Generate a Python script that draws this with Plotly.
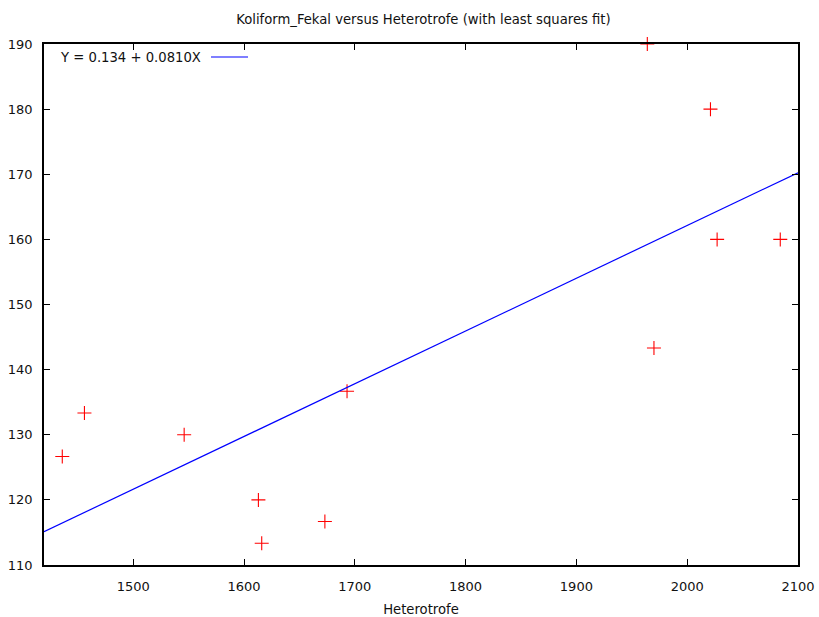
import plotly.graph_objects as go

heterotrofe = [1436, 1456, 1546, 1613, 1616, 1673, 1693, 1964, 1970, 2021, 2027, 2084]
koliform = [126.67, 133.33, 130.0, 120.0, 113.33, 116.67, 136.67, 190.0, 143.33, 180.0, 160.0, 160.0]
intercept = 0.134
slope = 0.0810
x_range = [1419.5, 2100]
y_range = [110, 190]
x_ticks = [1500, 1600, 1700, 1800, 1900, 2000, 2100]
y_ticks = [110, 120, 130, 140, 150, 160, 170, 180, 190]

font = "DejaVu Sans, Verdana, sans-serif"

fig = go.Figure()
fig.add_trace(go.Scatter(
    x=heterotrofe, y=koliform, mode="markers",
    marker=dict(symbol="cross-thin", size=10, line=dict(color="#ff0000", width=1.1)),
    showlegend=False, cliponaxis=False,
))
fit_x = x_range
fit_y = [intercept + slope * v for v in fit_x]
fig.add_trace(go.Scatter(
    x=fit_x, y=fit_y, mode="lines",
    line=dict(color="#0000ff", width=1.2), showlegend=False,
))

axis_common = dict(
    showgrid=False, zeroline=False, showline=True, linecolor="black", linewidth=1.5,
    mirror="allticks", ticks="inside", ticklen=6, tickcolor="black", tickwidth=1,
    tickfont=dict(family=font, size=13, color="#111111"), automargin=False,
)
fig.update_layout(
    width=819, height=617,
    margin=dict(l=44, r=21, t=44, b=52),
    paper_bgcolor="white", plot_bgcolor="white",
    title=dict(text="Koliform_Fekal versus Heterotrofe (with least squares fit)",
               x=0.517, xanchor="center", y=0.969, yanchor="middle",
               font=dict(family=font, size=13.2, color="#111111")),
    xaxis=dict(range=x_range, tickvals=x_ticks, ticklabelstandoff=9,
               title=dict(text="Heterotrofe", font=dict(family=font, size=13.2, color="#111111"), standoff=11),
               **axis_common),
    yaxis=dict(range=y_range, tickvals=y_ticks, ticklabelstandoff=7, **axis_common),
)
fig.add_annotation(
    xref="paper", yref="paper", x=(203 - 44) / 754, y=(565 - 57) / 521,
    xanchor="right", yanchor="middle", showarrow=False,
    text="Y = 0.134 + 0.0810X", font=dict(family=font, size=13.2, color="#111111"),
)
fig.add_shape(
    type="line", xref="paper", yref="paper",
    x0=(211 - 44) / 754, x1=(248 - 44) / 754, y0=(565 - 57) / 521, y1=(565 - 57) / 521,
    line=dict(color="#0000ff", width=1.2),
)

fig.write_html("out.html")
